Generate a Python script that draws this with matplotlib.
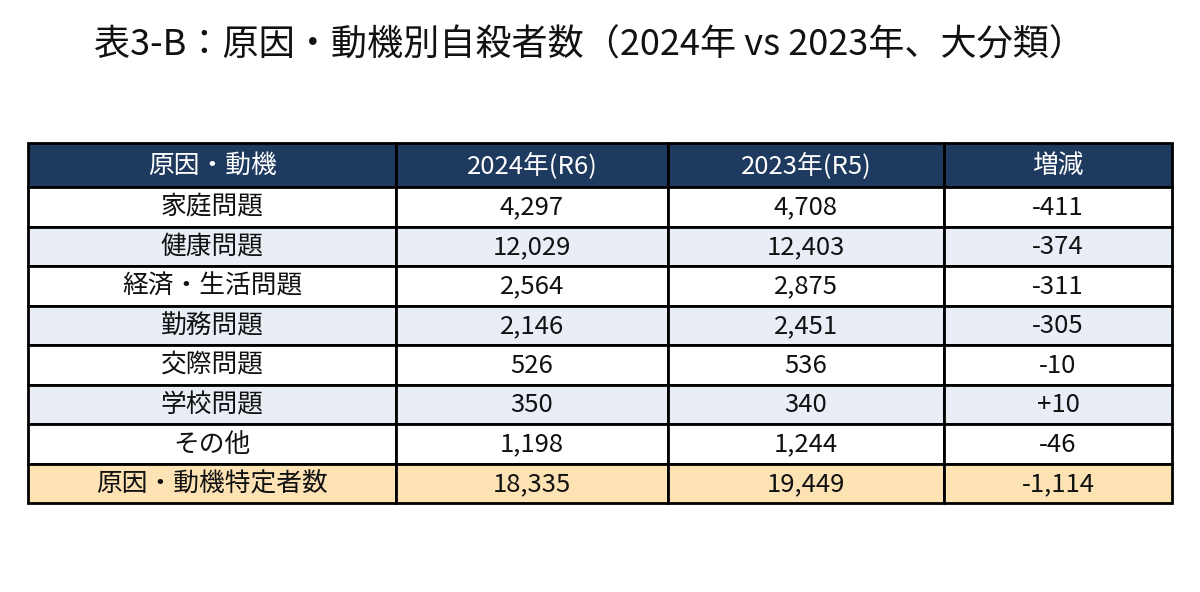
import matplotlib
matplotlib.use("Agg")
import matplotlib.pyplot as plt
from matplotlib.patches import Rectangle

plt.rcParams['font.family'] = ['Noto Sans CJK JP', 'DejaVu Sans']

title = "表3-B：原因・動機別自殺者数（2024年 vs 2023年、大分類）"
headers = ["原因・動機", "2024年(R6)", "2023年(R5)", "増減"]
categories = ["家庭問題", "健康問題", "経済・生活問題", "勤務問題", "交際問題", "学校問題", "その他", "原因・動機特定者数"]
values_2024 = [4297, 12029, 2564, 2146, 526, 350, 1198, 18335]
values_2023 = [4708, 12403, 2875, 2451, 536, 340, 1244, 19449]
changes = [-411, -374, -311, -305, -10, 10, -46, -1114]

W, H = 1200, 592
fig = plt.figure(figsize=(W / 100, H / 100), dpi=100)
ax = fig.add_axes([0, 0, 1, 1])
ax.set_xlim(0, W)
ax.set_ylim(H, 0)
ax.axis('off')

ax.text(590, 46, title, ha='center', va='center', fontsize=26, color='#111111')

col_x = [28, 396, 668, 944, 1172]
top = 143
header_h = 44
row_h = 39.5

header_color = '#1F3A5F'
alt_color = '#E9EEF6'
total_color = '#FDE2B4'

# header
for j in range(4):
    ax.add_patch(Rectangle((col_x[j], top), col_x[j + 1] - col_x[j], header_h,
                           facecolor=header_color, edgecolor='black', lw=2))
    ax.text((col_x[j] + col_x[j + 1]) / 2, top + header_h / 2 + 1, headers[j],
            ha='center', va='center', fontsize=18.5, color='white')

def fmt(v):
    return f"{v:,}"

def fmt_change(v):
    return f"+{v:,}" if v > 0 else f"{v:,}"

n = len(categories)
for i in range(n):
    y0 = top + header_h + i * row_h
    if i == n - 1:
        fc = total_color
    elif i % 2 == 1:
        fc = alt_color
    else:
        fc = 'white'
    cells = [categories[i], fmt(values_2024[i]), fmt(values_2023[i]), fmt_change(changes[i])]
    for j in range(4):
        ax.add_patch(Rectangle((col_x[j], y0), col_x[j + 1] - col_x[j], row_h,
                               facecolor=fc, edgecolor='black', lw=2))
        ax.text((col_x[j] + col_x[j + 1]) / 2, y0 + row_h / 2 + 1, cells[j],
                ha='center', va='center', fontsize=18.5, color='#111111')

fig.savefig('out.png', dpi=100, facecolor='white')
